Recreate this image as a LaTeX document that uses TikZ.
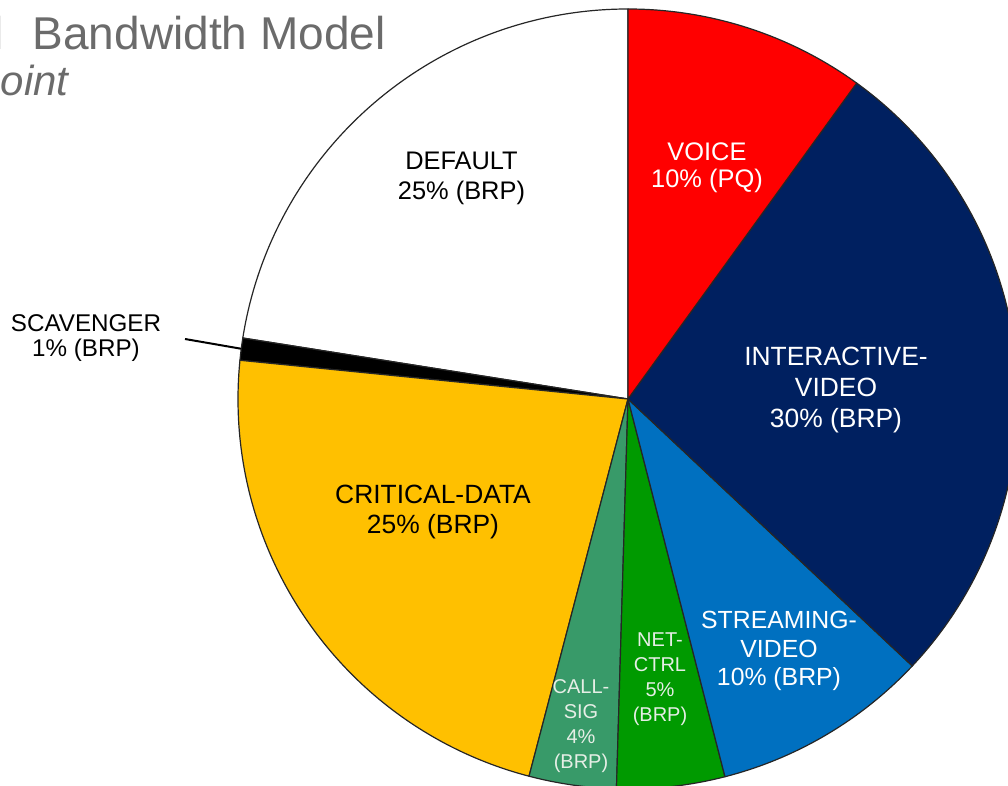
\documentclass[tikz,border=0pt]{standalone}
\usepackage{fontspec}
\setmainfont{Liberation Sans}
\usetikzlibrary{calc}
\definecolor{cvoice}{HTML}{FF0000}
\definecolor{civ}{HTML}{002060}
\definecolor{csv}{HTML}{0070C0}
\definecolor{cnc}{HTML}{009A00}
\definecolor{ccs}{HTML}{389A69}
\definecolor{ccd}{HTML}{FFC000}
\definecolor{ctitle}{HTML}{6B6B6B}
\definecolor{csmall}{HTML}{E6EEE6}
\begin{document}
\begin{tikzpicture}[x=0.5pt,y=0.5pt,
  wedge/.style={draw=black!85, line width=0.6pt, line join=round},
  lbl/.style={align=center, inner sep=0pt, font=\fontsize{12.7}{15}\selectfont},
  smalllbl/.style={align=center, inner sep=0pt, text=csmall, font=\fontsize{10}{12.5}\selectfont}]
\useasboundingbox (0,0) rectangle (1008,-786);
\clip (0,0) rectangle (1008,-786);
\coordinate (c) at (628,-399);
% wedges
\filldraw[wedge, fill=white] (c) -- ++(90:390) arc[start angle=90, end angle=171, radius=390] -- cycle;
\filldraw[wedge, fill=black] (c) -- ++(171:390) arc[start angle=171, end angle=174.3, radius=390] -- cycle;
\filldraw[wedge, fill=ccd] (c) -- ++(174.3:390) arc[start angle=174.3, end angle=255.3, radius=390] -- cycle;
\filldraw[wedge, fill=ccs] (c) -- ++(255.3:390) arc[start angle=255.3, end angle=268.3, radius=390] -- cycle;
\filldraw[wedge, fill=cnc] (c) -- ++(268.3:390) arc[start angle=268.3, end angle=284.4, radius=390] -- cycle;
\filldraw[wedge, fill=csv] (c) -- ++(284.4:390) arc[start angle=284.4, end angle=316.8, radius=390] -- cycle;
\filldraw[wedge, fill=civ] (c) -- ++(316.8:390) arc[start angle=316.8, end angle=414.1, radius=390] -- cycle;
\filldraw[wedge, fill=cvoice] (c) -- ++(54.1:390) arc[start angle=54.1, end angle=90, radius=390] -- cycle;
% title
\node[anchor=base east, inner sep=0pt, text=ctitle, font=\fontsize{23}{23}\selectfont] (title) at (386,-50) {l\hspace{8pt} Bandwidth Model};
\node[anchor=base east, inner sep=0pt, text=ctitle, font=\fontsize{21}{21}\selectfont\itshape] (subtitle) at (69,-96) {oint};
% labels
\node[lbl] (default) at (461.5,-178.7) {DEFAULT\\25\% (BRP)};
\node[lbl, text=white, font=\fontsize{12.7}{13.5}\selectfont] (voice) at (707,-167.5) {VOICE\\10\% (PQ)};
\node[lbl, text=white, font=\fontsize{13.2}{15.5}\selectfont] (iv) at (836,-389.8) {INTERACTIVE-\\VIDEO\\30\% (BRP)};
\node[lbl, text=white, font=\fontsize{12.4}{14.2}\selectfont] (sv) at (779,-651.3) {STREAMING-\\VIDEO\\10\% (BRP)};
\node[lbl, font=\fontsize{13.2}{15}\selectfont] (cd) at (433,-512.2) {CRITICAL-DATA\\25\% (BRP)};
\node[lbl, font=\fontsize{12.1}{12.5}\selectfont] (scav) at (86,-338) {SCAVENGER\\1\% (BRP)};
\node[smalllbl] (nc) at (660,-679.2) {NET-\\CTRL\\5\%\\(BRP)};
\node[smalllbl] (cs) at (581,-725.7) {CALL-\\SIG\\4\%\\(BRP)};
% scavenger leader
\coordinate (scavlead) at (185,-339);
\coordinate (scavtip) at ($(c)+(172.6:390)$);
\draw[line width=1pt, black] (scavlead) -- (scavtip);
\end{tikzpicture}
\end{document}
